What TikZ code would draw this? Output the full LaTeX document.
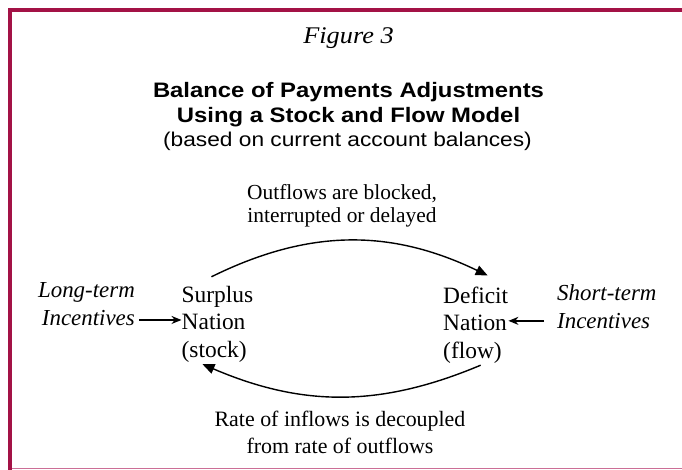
\documentclass[tikz,border=0pt]{standalone}
\usepackage{fontspec}
\setmainfont{Liberation Serif}
\newfontfamily\headfont[FakeStretch=1.14]{Liberation Sans}
\newfontfamily\figfont[FakeStretch=1.1]{Liberation Serif}
\usetikzlibrary{arrows.meta}
\definecolor{framered}{RGB}{163,18,70}
\definecolor{framepink}{RGB}{204,110,150}

\tikzset{
  nation/.style={inner sep=0pt, align=left, font=\fontsize{23.5}{27.5}\selectfont},
  incentive/.style={inner sep=0pt, font=\fontsize{23}{28.5}\selectfont\itshape},
  flowlabel/.style={inner sep=0pt, align=center, font=\fontsize{22}{26.5}\selectfont},
  push/.style={-{Stealth[length=10bp,width=8bp]}, line width=1.3bp},
  loopflow/.style={-{Triangle[length=12bp,width=10bp]}, line width=1.4bp}
}

\begin{document}
\begin{tikzpicture}[x=1bp,y=-1bp]
\useasboundingbox (0,0) rectangle (682,470);
% frame
\draw[framered,line width=4bp] (10,470) -- (10,10) -- (682,10);
\draw[framepink,line width=1bp] (12,468.5) -- (682,468.5);

% base of a node with several lines = baseline of its last line
\path
(348.5,44) node[anchor=base,inner sep=0pt,font=\figfont\fontsize{24}{28}\selectfont\itshape](fig) {Figure 3}
(348.5,123) node[anchor=base,inner sep=0pt,align=center,font=\headfont\fontsize{21}{26}\selectfont\bfseries](title) {Balance of Payments Adjustments\\Using a Stock and Flow Model}
(347.5,147) node[anchor=base,inner sep=0pt,font=\headfont\fontsize{20}{24}\selectfont](sub) {(based on current account balances)}
(342,223) node[anchor=base,flowlabel,font=\fontsize{21.5}{24}\selectfont](outlab) {Outflows are blocked,\\interrupted or delayed}
(340,453) node[anchor=base,flowlabel](inlab) {Rate of inflows is decoupled\\from rate of outflows}
(181.5,357) node[anchor=base west,nation](surplus) {Surplus\\Nation\\(stock)}
(443,358) node[anchor=base west,nation](deficit) {Deficit\\Nation\\(flow)}
(135,326) node[anchor=base east,incentive,align=right](longterm) {Long-term\\Incentives}
(557,329) node[anchor=base west,incentive,align=left](shortterm) {Short-term\\Incentives};

\draw[push,shorten <=4bp] ([shift={(0,-4)}]longterm.east |- surplus.west) -- ([shift={(0,-4)}]surplus.west);
\draw[push,shorten <=13bp] ([shift={(0,-4)}]shortterm.west |- deficit.west) -- ([shift={(0,-4)}]deficit.east);
\draw[loopflow] ([shift={(-6,-9)}]surplus.north) to[bend left=26] ([shift={(12,-11)}]deficit.north);
\draw[loopflow] ([shift={(5,2)}]deficit.south) to[bend left=23] ([shift={(-15,2)}]surplus.south);
\end{tikzpicture}
\end{document}
